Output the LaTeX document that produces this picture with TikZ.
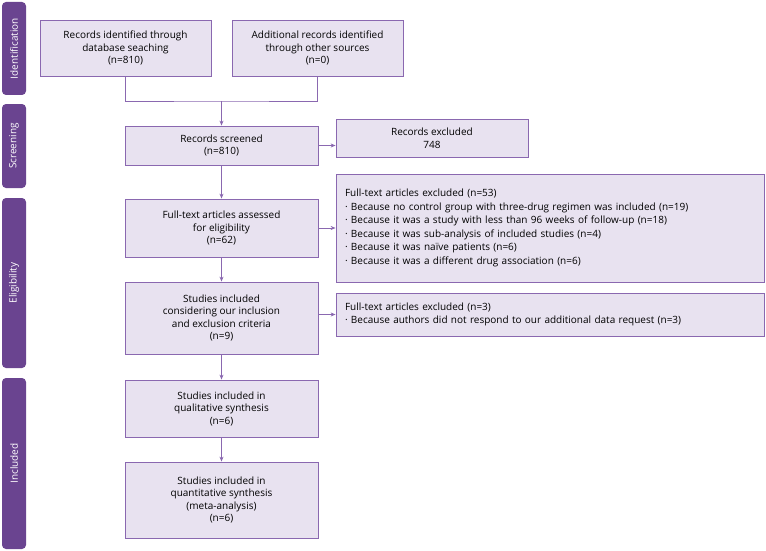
\documentclass[tikz,border=0pt]{standalone}
\usepackage{fontspec}
\setmainfont{Open Sans}
\usetikzlibrary{arrows.meta}
\begin{document}
\begin{tikzpicture}[x=1pt,y=-1pt,
 box/.style={draw=bord,fill=boxf,line width=0.8pt,align=center,font=\fontsize{10}{12.5}\selectfont,inner sep=0pt},
 lbox/.style={draw=bord,fill=boxf,line width=0.8pt,align=left,font=\fontsize{10}{13.5}\selectfont,inner sep=0pt},
 arr/.style={draw=bord,line width=0.8pt,-{Stealth[length=5pt,width=4pt]}},
 ln/.style={draw=bord,line width=0.8pt}]
\definecolor{bord}{HTML}{8A68B0}
\definecolor{boxf}{HTML}{E8E2F0}
\definecolor{sidef}{HTML}{6A4490}
\useasboundingbox (0,0) rectangle (766,551);
% sidebars
\foreach \n/\a/\b/\t in {id/2/95/Identification, sc/104/188/Screening, el/198/368/Eligibility, in/378/549/Included}{
 \fill[sidef,rounded corners=4pt] (2,\a) rectangle (26,\b);
 \node[text=white,font=\fontsize{10}{12}\selectfont,rotate=90] (\n) at (14,{(\a+\b)/2}) {\t};
}
\node[box,minimum width=171,minimum height=56] (a) at (125.5,48) {Records identified through\\database seaching\\(n=810)};
\node[box,minimum width=171,minimum height=56] (b) at (317.5,48) {Additional records identified\\through other sources\\(n=0)};
\node[box,minimum width=193,minimum height=39] (s) at (221.5,145.5) {Records screened\\(n=810)};
\node[box,minimum width=192,minimum height=38] (x1) at (432,138) {Records excluded\\748};
\node[box,minimum width=193,minimum height=58] (f) at (221.5,228) {Full-text articles assessed\\for eligibility\\(n=62)};
\node[lbox,minimum width=428,minimum height=108,text width=410] (x2) at (550,228) {Full-text articles excluded (n=53)\\
· Because no control group with three-drug regimen was included (n=19)\\
· Because it was a study with less than 96 weeks of follow-up (n=18)\\
· Because it was sub-analysis of included studies (n=4)\\
· Because it was naïve patients (n=6)\\
· Because it was a different drug association (n=6)};
\node[box,minimum width=193,minimum height=72] (st) at (221.5,318) {Studies included\\considering our inclusion\\and exclusion criteria\\(n=9)};
\node[lbox,minimum width=428,minimum height=43,text width=410] (x3) at (550,314.5) {Full-text articles excluded (n=3)\\
· Because authors did not respond to our additional data request (n=3)};
\node[box,minimum width=193,minimum height=57] (q1) at (221.5,408.5) {Studies included in\\qualitative synthesis\\(n=6)};
\node[box,minimum width=193,minimum height=76] (q2) at (221.5,500) {Studies included in\\quantitative synthesis\\(meta-analysis)\\(n=6)};
\coordinate (m) at (221.5,101);
\draw[ln] (a.south) |- (m) -| (b.south);
\draw[arr] (m) -- (s.north);
\draw[arr] (s.east) -- (s.east -| x1.west);
\draw[arr] (s) -- (f);
\draw[arr] (f.east) -- (f.east -| x2.west);
\draw[arr] (f) -- (st);
\draw[arr] (st.east |- x3.west) -- (x3.west);
\draw[arr] (st) -- (q1);
\draw[arr] (q1) -- (q2);
\end{tikzpicture}
\end{document}
